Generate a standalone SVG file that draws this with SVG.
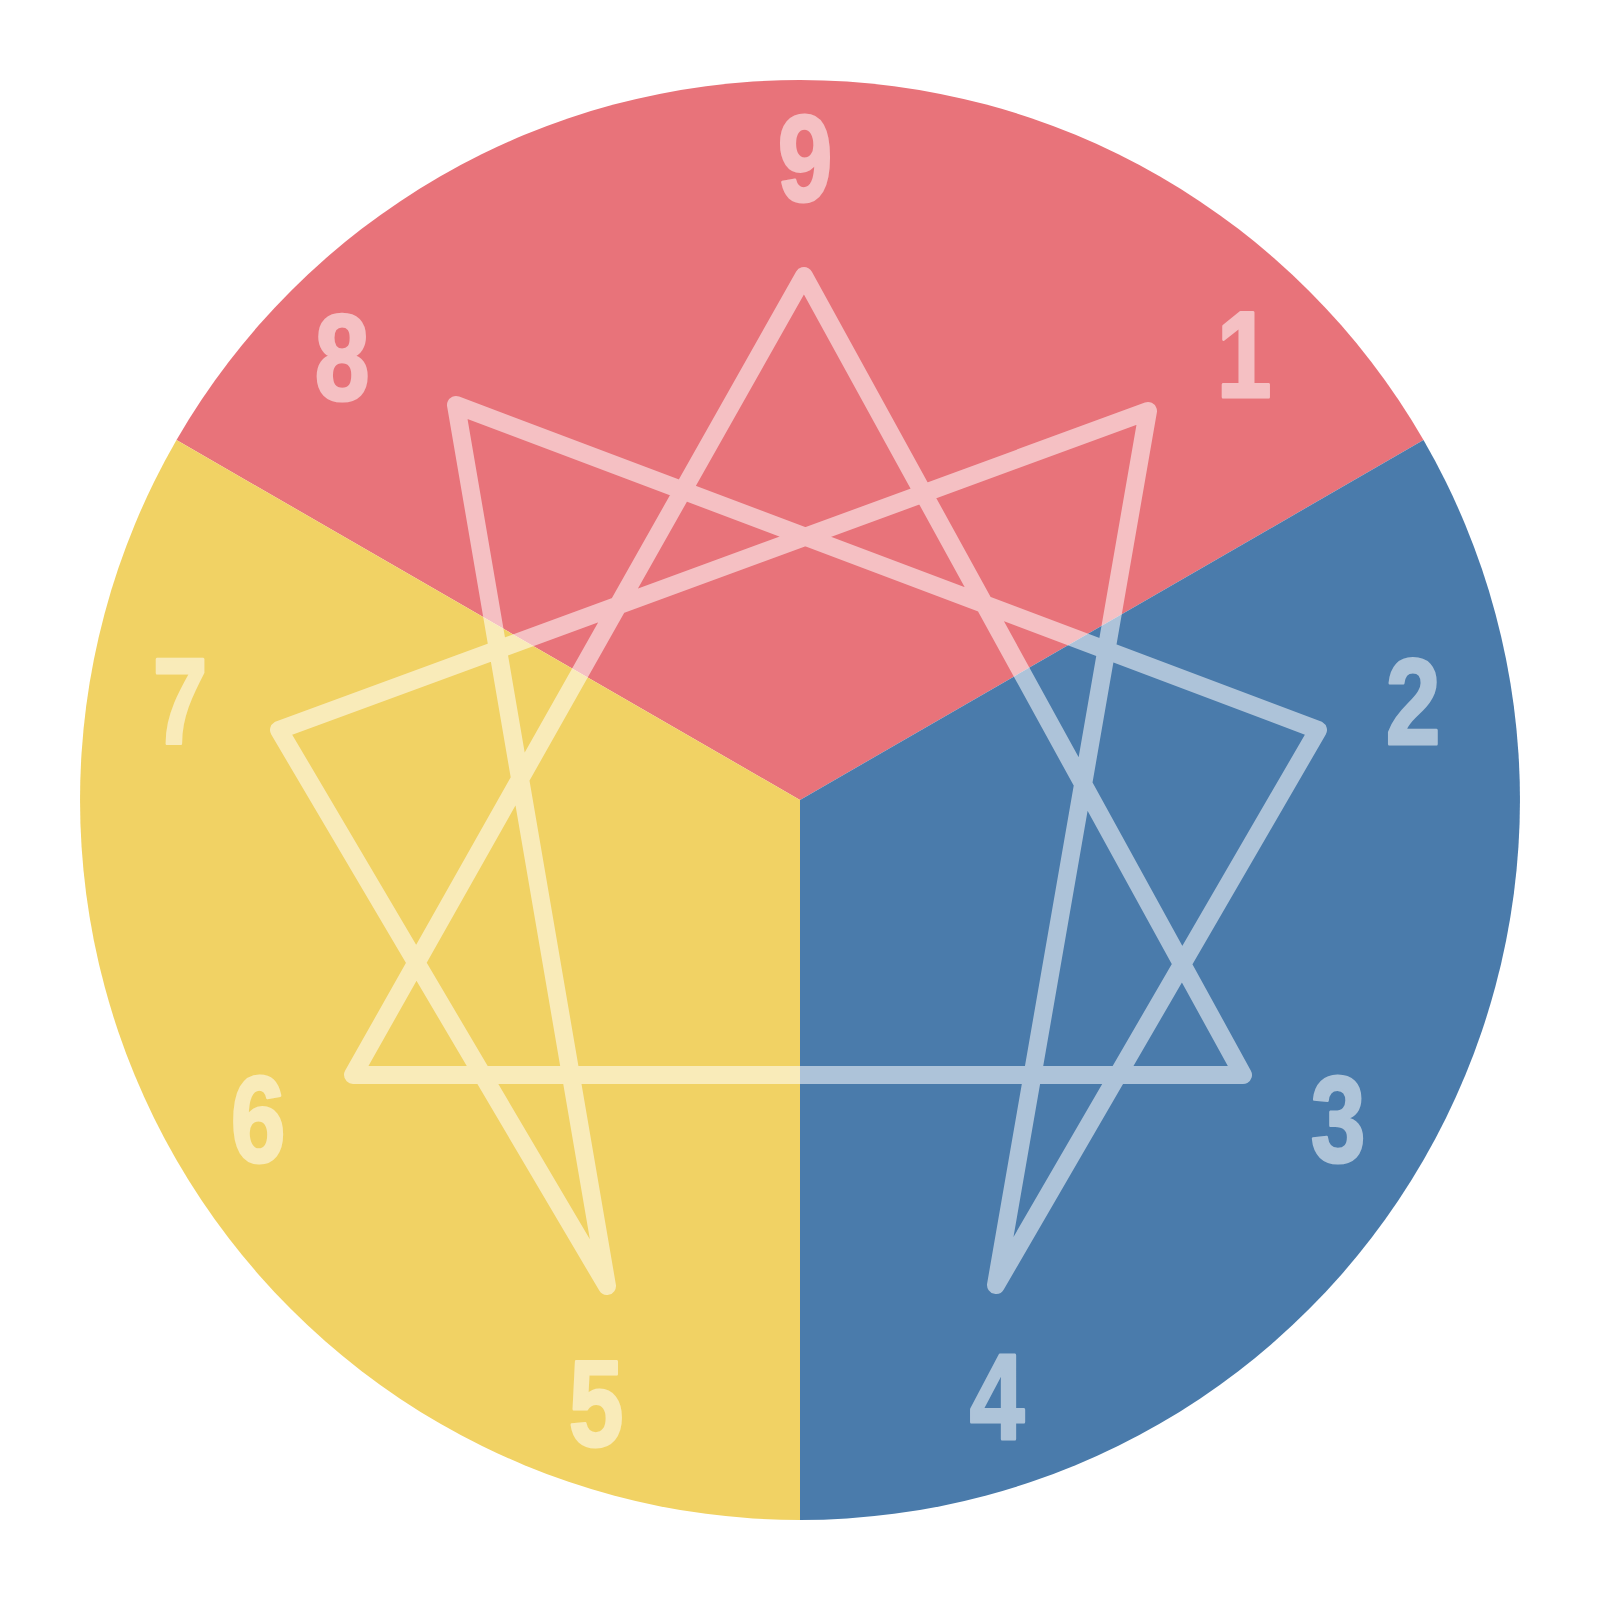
<svg xmlns="http://www.w3.org/2000/svg" width="1600" height="1600" viewBox="0 0 1600 1600">
  <style>
    .num { font-family: "Liberation Sans", Arial, sans-serif; font-weight: bold; font-size: 123px; text-anchor: middle; stroke-width: 3; stroke-linejoin: round; }
    .on-red { fill: #F5C0C3; stroke: #F5C0C3; }
    .on-yellow { fill: #F9EBB9; stroke: #F9EBB9; }
    .on-blue { fill: #AEC4D9; stroke: #AEC4D9; }
    .fig { fill: none; stroke: #ffffff; stroke-width: 18; stroke-linejoin: round; stroke-linecap: round; }
  </style>
  <rect width="1600" height="1600" fill="#ffffff"/>
  <g id="sectors">
    <path id="sector-red" d="M800,800 L176.5,440 A720,720 0 0 1 1423.5,440 Z" fill="#E8737A"/>
    <path id="sector-blue" d="M800,800 L1423.5,440 A720,720 0 0 1 800,1520 Z" fill="#4A7BAB"/>
    <path id="sector-yellow" d="M800,800 L800,1520 A720,720 0 0 1 176.5,440 Z" fill="#F1D264"/>
  </g>
  <g id="connectors" opacity="0.55">
    <path class="fig" d="M804,276 L1243,1075 L353,1075 Z M1148,411 L996,1285 L1318,730 L456,405 L607,1286 L279,730 Z"/>
  </g>
  <g id="labels">
    <g id="n9"><text class="num on-red" transform="translate(805,201) scale(0.8,1)">9</text></g>
    <g id="n1"><text class="num on-red" transform="translate(1244,397) scale(0.8,1)">1</text></g>
    <g id="n2"><text class="num on-blue" transform="translate(1413,744) scale(0.8,1)">2</text></g>
    <g id="n3"><text class="num on-blue" transform="translate(1338,1162) scale(0.8,1)">3</text></g>
    <g id="n4"><text class="num on-blue" transform="translate(997,1439) scale(0.8,1)">4</text></g>
    <g id="n5"><text class="num on-yellow" transform="translate(596,1446) scale(0.8,1)">5</text></g>
    <g id="n6"><text class="num on-yellow" transform="translate(258,1162) scale(0.8,1)">6</text></g>
    <g id="n7"><text class="num on-yellow" transform="translate(180,744) scale(0.8,1)">7</text></g>
    <g id="n8"><text class="num on-red" transform="translate(342,400) scale(0.8,1)">8</text></g>
  </g>
</svg>
